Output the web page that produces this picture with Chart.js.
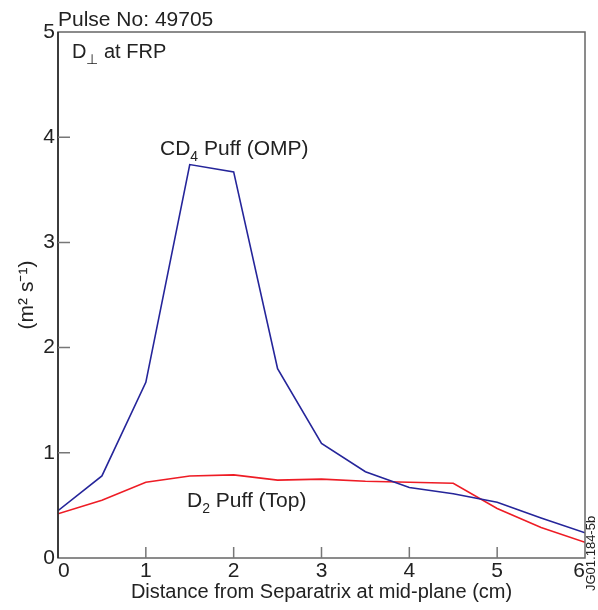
<!DOCTYPE html>
<html>
<head>
<meta charset="utf-8">
<script src="https://cdn.jsdelivr.net/npm/chart.js@4"></script>
<style>
  body { margin: 0; background: #fff; }
  #wrap { width: 598px; height: 610px; }
</style>
</head>
<body>
<div id="wrap"><canvas id="chart" width="598" height="610"></canvas></div>
<script>
// distance from separatrix (cm)
var distance = [0, 0.5, 1, 1.5, 2, 2.5, 3, 3.5, 4, 4.5, 5, 5.5, 6];
// D perp values (m^2 s^-1)
var cd4Puff = [0.45, 0.78, 1.67, 3.74, 3.67, 1.80, 1.09, 0.82, 0.67, 0.61, 0.53, 0.38, 0.24];
var d2Puff  = [0.42, 0.55, 0.72, 0.78, 0.79, 0.74, 0.75, 0.73, 0.72, 0.71, 0.47, 0.29, 0.15];
var xTicks = [0, 1, 2, 3, 4, 5, 6];
var yTicks = [0, 1, 2, 3, 4, 5];

var FONT = "'Liberation Sans', Arial, sans-serif";

function pts(xs, ys) {
  return xs.map(function(x, i) { return {x: x, y: ys[i]}; });
}

// draws frame, inner ticks and the text labels
var decorations = {
  id: 'decorations',
  afterDraw: function(chart) {
    var ctx = chart.ctx, a = chart.chartArea;
    var xs = chart.scales.x, ys = chart.scales.y;
    ctx.save();
    ctx.strokeStyle = '#666';
    ctx.lineWidth = 1.5;
    ctx.strokeRect(a.left, a.top, a.right - a.left, a.bottom - a.top);
    ctx.strokeStyle = '#222';
    ctx.beginPath();
    ctx.moveTo(a.left, a.top); ctx.lineTo(a.left, a.bottom);
    ctx.stroke();
    ctx.strokeStyle = '#777';
    ctx.beginPath();
    xTicks.slice(1, -1).forEach(function(v) {
      var p = xs.getPixelForValue(v);
      ctx.moveTo(p, a.bottom); ctx.lineTo(p, a.bottom - 11);
    });
    yTicks.slice(1, -1).forEach(function(v) {
      var p = ys.getPixelForValue(v);
      ctx.moveTo(a.left, p); ctx.lineTo(a.left + 12, p);
    });
    ctx.stroke();

    ctx.fillStyle = '#222';
    ctx.textBaseline = 'alphabetic';
    ctx.textAlign = 'left';
    ctx.font = '21px ' + FONT;
    ctx.fillText('Pulse No: 49705', 58, 26);

    function sub(main, s, rest, x, y, size) {
      ctx.font = size + 'px ' + FONT;
      ctx.fillText(main, x, y);
      x += ctx.measureText(main).width;
      ctx.font = Math.round(size * 0.68) + 'px ' + FONT;
      ctx.fillText(s, x, y + 6);
      x += ctx.measureText(s).width;
      ctx.font = size + 'px ' + FONT;
      ctx.fillText(rest, x, y);
    }
    sub('D', '\u22A5', ' at FRP', 72, 58, 20);
    sub('CD', '4', ' Puff (OMP)', 160, 155, 21);
    sub('D', '2', ' Puff (Top)', 187, 507, 21);

    ctx.save();
    ctx.translate(595, 591);
    ctx.rotate(-Math.PI / 2);
    ctx.font = '13px ' + FONT;
    ctx.fillText('JG01.184-5b', 0, 0);
    ctx.restore();
    ctx.restore();
  }
};

var chart = new Chart(document.getElementById('chart').getContext('2d'), {
  type: 'line',
  data: {
    datasets: [
      {
        label: 'CD4 Puff (OMP)',
        data: pts(distance, cd4Puff),
        borderColor: '#25259a',
        borderWidth: 1.6,
        pointRadius: 0,
        tension: 0,
        fill: false
      },
      {
        label: 'D2 Puff (Top)',
        data: pts(distance, d2Puff),
        borderColor: '#ee1c25',
        borderWidth: 1.6,
        pointRadius: 0,
        tension: 0,
        fill: false
      }
    ]
  },
  options: {
    responsive: false,
    animation: false,
    layout: { padding: { top: 32, right: 13, left: 0, bottom: 0 } },
    plugins: { legend: { display: false }, tooltip: { enabled: false } },
    scales: {
      x: {
        type: 'linear', min: 0, max: 6,
        afterFit: function(s) { s.height = 52; },
        afterBuildTicks: function(s) { s.ticks = xTicks.map(function(v) { return {value: v}; }); },
        grid: { display: false, drawTicks: false },
        border: { display: false },
        ticks: { color: '#222', font: { family: FONT, size: 21 }, padding: 1, maxRotation: 0, align: 'inner' },
        title: { display: true, text: 'Distance from Separatrix at mid-plane (cm)', color: '#222',
                 font: { family: FONT, size: 20 }, padding: { top: 0, bottom: 6 } }
      },
      y: {
        type: 'linear', min: 0, max: 5,
        afterFit: function(s) { s.width = 58; },
        afterBuildTicks: function(s) { s.ticks = yTicks.map(function(v) { return {value: v}; }); },
        grid: { display: false, drawTicks: false },
        border: { display: false },
        ticks: { color: '#222', font: { family: FONT, size: 21 }, padding: 3 },
        title: { display: true, text: '(m\u00B2 s\u207B\u00B9)', color: '#222',
                 font: { family: FONT, size: 21 }, padding: { top: 15, bottom: 0 } }
      }
    }
  },
  plugins: [decorations]
});
</script>
</body>
</html>
